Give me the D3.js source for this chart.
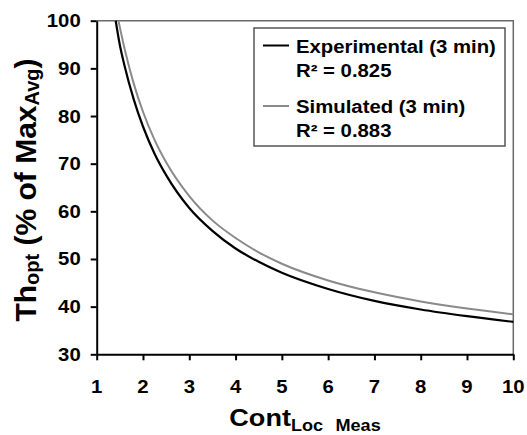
<!DOCTYPE html>
<html>
<head>
<meta charset="utf-8">
<script src="https://cdn.jsdelivr.net/npm/d3@7"></script>
<style>
  html, body { margin: 0; padding: 0; background: #fff; }
  svg { display: block; font-family: "Liberation Sans", Arial, sans-serif; font-weight: bold; }
</style>
</head>
<body>
<svg id="chart" width="527" height="435"></svg>
<script>
// ---- data ----
const xTicks = [1, 2, 3, 4, 5, 6, 7, 8, 9, 10];
const yTicks = [30, 40, 50, 60, 70, 80, 90, 100];

const expX = [1.41, 1.5, 1.6, 1.8, 2, 2.25, 2.5, 3, 3.5, 4, 4.5, 5, 6, 7, 8, 9, 10];
const expY = [100, 94.9, 90.6, 83.5, 77.8, 72.1, 67.6, 60.7, 55.9, 52.2, 49.4, 47.1, 43.7, 41.2, 39.4, 38.0, 36.8];

const simX = [1.47, 1.6, 1.8, 2, 2.25, 2.5, 3, 3.5, 4, 4.5, 5, 6, 7, 8, 9, 10];
const simY = [100, 94.2, 86.8, 80.9, 75.0, 70.3, 63.2, 58.1, 54.4, 51.4, 49.0, 45.5, 43.0, 41.1, 39.6, 38.4];

const legendLabels = [
  ["Experimental (3 min)", "R\u00B2 = 0.825"],
  ["Simulated (3 min)", "R\u00B2 = 0.883"]
];
const seriesColors = ["#000000", "#8a8a8a"];

// ---- layout ----
const svg = d3.select("#chart");
const x = d3.scaleLinear().domain([1, 10]).range([96.7, 513.3]);
const y = d3.scaleLinear().domain([30, 100]).range([354.3, 20.7]);
const SX = 1.13; // horizontal stretch of the reference text

// frame (top & right, gray)
svg.append("path")
  .attr("d", `M${x(1)},${y(100)}H${x(10)}V${y(30)}`)
  .attr("fill", "none").attr("stroke", "#6a6a6a").attr("stroke-width", 1.5);

// axes
const yAxis = d3.axisLeft(y).tickValues(yTicks).tickSize(6).tickSizeOuter(0).tickFormat("");
const xAxis = d3.axisBottom(x).tickValues(xTicks).tickSize(6).tickSizeOuter(0).tickFormat("");

const gy = svg.append("g").attr("transform", `translate(${x(1)},0)`).call(yAxis);
const gx = svg.append("g").attr("transform", `translate(0,${y(30)})`).call(xAxis);
[gx, gy].forEach(g => {
  g.select(".domain").attr("stroke", "#000").attr("stroke-width", 2);
  g.selectAll(".tick line").attr("stroke", "#000").attr("stroke-width", 2);
});

// tick labels
svg.append("g").selectAll("g").data(yTicks).join("g")
  .attr("transform", d => `translate(80.7,${y(d) + 6.5}) scale(${SX},1)`)
  .append("text").attr("text-anchor", "end").attr("font-size", 18).attr("fill", "#000")
  .text(d => d);

svg.append("g").selectAll("g").data(xTicks).join("g")
  .attr("transform", d => `translate(${x(d)},392.7) scale(${SX},1)`)
  .append("text").attr("text-anchor", "middle").attr("font-size", 18).attr("fill", "#000")
  .text(d => d);

// curves
const line = d3.line().x(d => x(d[0])).y(d => y(d[1])).curve(d3.curveMonotoneX);
const expData = expX.map((v, i) => [v, expY[i]]);
const simData = simX.map((v, i) => [v, simY[i]]);

svg.append("path").datum(simData).attr("d", line)
  .attr("fill", "none").attr("stroke", seriesColors[1]).attr("stroke-width", 2);
svg.append("path").datum(expData).attr("d", line)
  .attr("fill", "none").attr("stroke", seriesColors[0]).attr("stroke-width", 2.2);

// legend
const lg = svg.append("g");
lg.append("rect").attr("x", 254).attr("y", 28).attr("width", 251).attr("height", 118)
  .attr("fill", "#fff").attr("stroke", "#555").attr("stroke-width", 1.5);
const legendY = [45.5, 106];
const textBase = [[53, 77], [113, 137]];
legendLabels.forEach((lab, i) => {
  lg.append("line").attr("x1", 263).attr("x2", 289).attr("y1", legendY[i]).attr("y2", legendY[i])
    .attr("stroke", seriesColors[i]).attr("stroke-width", 2);
  lab.forEach((t, j) => {
    lg.append("g").attr("transform", `translate(296,${textBase[i][j]}) scale(${SX},1)`)
      .append("text").attr("font-size", 18).attr("fill", "#000").text(t);
  });
});

// x title
const xt = svg.append("g").attr("transform", `translate(305,426) scale(${SX},1)`)
  .append("text").attr("text-anchor", "middle").attr("fill", "#000");
xt.append("tspan").attr("font-size", 24).text("Cont");
xt.append("tspan").attr("font-size", 16).attr("dy", 5).text("Loc");
xt.append("tspan").attr("font-size", 16).attr("dx", 6.5).text(" Meas");

// y title
const yt = svg.append("text").attr("transform", "translate(35.5,190) rotate(-90)")
  .attr("text-anchor", "middle").attr("fill", "#000");
yt.append("tspan").attr("font-size", 30).text("Th");
yt.append("tspan").attr("font-size", 20).attr("dy", 3).text("opt");
yt.append("tspan").attr("font-size", 30).attr("dy", -3).text(" (% of Max");
yt.append("tspan").attr("font-size", 20).attr("dy", 3).text("Avg");
yt.append("tspan").attr("font-size", 30).attr("dy", -3).text(")");
</script>
</body>
</html>
